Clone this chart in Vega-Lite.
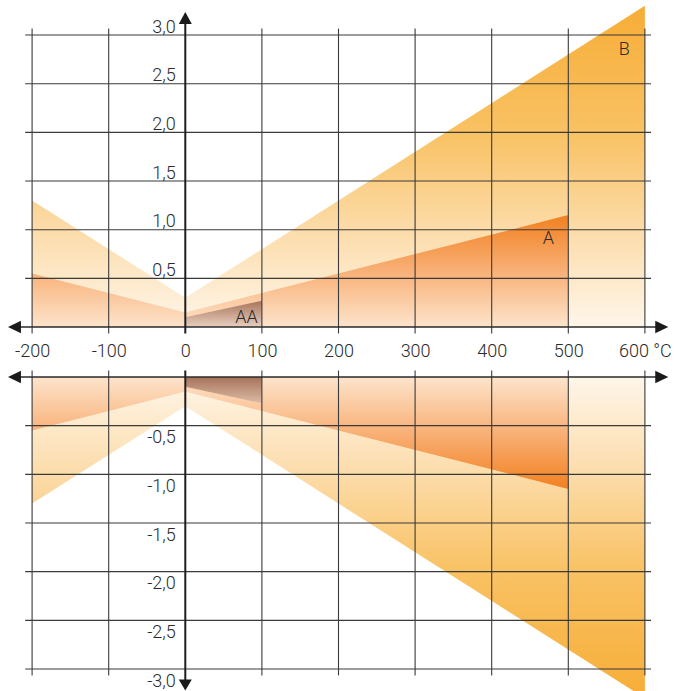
{
  "$schema": "https://vega.github.io/schema/vega-lite/v6.json",
  "padding": 0,
  "autosize": {"type": "pad"},
  "background": "white",
  "spacing": 50,
  "bounds": "flush",
  "config": {
    "view": {"stroke": null},
    "axis": {"labelFont": "Roboto", "labelFontWeight": 300, "labelFontSize": 18, "labelColor": "#2a2a2a"}
  },
  "datasets": {
    "bands": [
      {"cls": "B", "half": "upper", "t": -200, "v": 1.3},
      {"cls": "B", "half": "upper", "t": 0, "v": 0.3},
      {"cls": "B", "half": "upper", "t": 600, "v": 3.3},
      {"cls": "A", "half": "upper", "t": -200, "v": 0.55},
      {"cls": "A", "half": "upper", "t": 0, "v": 0.15},
      {"cls": "A", "half": "upper", "t": 500, "v": 1.15},
      {"cls": "AA", "half": "upper", "t": 0, "v": 0.1},
      {"cls": "AA", "half": "upper", "t": 100, "v": 0.27},
      {"cls": "B", "half": "lower", "t": -200, "v": -1.3},
      {"cls": "B", "half": "lower", "t": 0, "v": -0.3},
      {"cls": "B", "half": "lower", "t": 600, "v": -3.3},
      {"cls": "A", "half": "lower", "t": -200, "v": -0.55},
      {"cls": "A", "half": "lower", "t": 0, "v": -0.15},
      {"cls": "A", "half": "lower", "t": 500, "v": -1.15},
      {"cls": "AA", "half": "lower", "t": 0, "v": -0.1},
      {"cls": "AA", "half": "lower", "t": 100, "v": -0.27}
    ],
    "vgrid": [{"t": -200}, {"t": -100}, {"t": 100}, {"t": 200}, {"t": 300}, {"t": 400}, {"t": 500}, {"t": 600}],
    "hgridUpper": [{"v": 0.5}, {"v": 1.0}, {"v": 1.5}, {"v": 2.0}, {"v": 2.5}, {"v": 3.0}],
    "hgridLower": [{"v": -0.5}, {"v": -1.0}, {"v": -1.5}, {"v": -2.0}, {"v": -2.5}, {"v": -3.0}],
    "labels": [
      {"label": "B", "t": 573, "v": 2.85},
      {"label": "A", "t": 474, "v": 0.9},
      {"label": "AA", "t": 80, "v": 0.094}
    ]
  },
  "vconcat": [
    {
      "width": 675,
      "height": 327,
      "resolve": {"axis": {"x": "independent", "y": "independent"}},
      "layer": [
        {
          "data": {"name": "bands"},
          "transform": [{"filter": "datum.cls == 'B' && datum.half == 'upper'"}],
          "mark": {"type": "area", "clip": true, "color": {"gradient": "linear", "x1": 0, "y1": 1, "x2": 0, "y2": 0, "stops": [{"offset": 0, "color": "#fef6ea"}, {"offset": 0.3, "color": "#fcdcaa"}, {"offset": 0.6, "color": "#f9c264"}, {"offset": 1, "color": "#f7ad37"}]}},
          "encoding": {
            "x": {"field": "t", "type": "quantitative", "scale": {"domain": [-241.9, 639.3], "nice": false, "zero": false},
              "axis": {"values": [-200, -100, 0, 100, 200, 300, 400, 500, 600], "labelExpr": "datum.value == 600 ? '600 °C' : '' + datum.value", "domain": false, "ticks": false, "tickSize": 0, "grid": false, "labelPadding": 15, "labelFlush": false, "labelOverlap": false, "title": null}},
            "y": {"field": "v", "type": "quantitative", "stack": null, "scale": {"domain": [0, 3.36], "nice": false, "zero": false},
              "axis": {"orient": "left", "offset": -185.3, "values": [0.5, 1, 1.5, 2, 2.5, 3], "labelExpr": "replace(format(datum.value, '.1f'), '.', ',')", "domain": false, "ticks": false, "tickSize": 0, "grid": false, "labelPadding": 10, "labelBaseline": "alphabetic", "labelOffset": -3, "labelFlush": false, "labelOverlap": false, "title": null}},
            "y2": {"datum": 0}
          }
        },
        {
          "data": {"name": "bands"},
          "transform": [{"filter": "datum.cls == 'A' && datum.half == 'upper'"}],
          "mark": {"type": "area", "clip": true, "color": {"gradient": "linear", "x1": 0, "y1": 1, "x2": 0, "y2": 0, "stops": [{"offset": 0, "color": "#fde4cc"}, {"offset": 0.5, "color": "#f8b076"}, {"offset": 1, "color": "#f28020"}]}},
          "encoding": {
            "x": {"field": "t", "type": "quantitative", "axis": null},
            "y": {"field": "v", "type": "quantitative", "stack": null, "axis": null},
            "y2": {"datum": 0}
          }
        },
        {
          "data": {"name": "bands"},
          "transform": [{"filter": "datum.cls == 'AA' && datum.half == 'upper'"}],
          "mark": {"type": "area", "clip": true, "color": {"gradient": "linear", "x1": 0, "y1": 1, "x2": 0, "y2": 0, "stops": [{"offset": 0, "color": "#e8cfbf"}, {"offset": 1, "color": "#a8735a"}]}},
          "encoding": {
            "x": {"field": "t", "type": "quantitative", "axis": null},
            "y": {"field": "v", "type": "quantitative", "stack": null, "axis": null},
            "y2": {"datum": 0}
          }
        },
        {
          "data": {"name": "vgrid"},
          "mark": {"type": "rule", "color": "#3a3a3a", "strokeWidth": 1.1},
          "encoding": {
            "x": {"field": "t", "type": "quantitative", "axis": null},
            "y": {"datum": -0.066, "type": "quantitative", "axis": null},
            "y2": {"datum": 3.066}
          }
        },
        {
          "data": {"name": "hgridUpper"},
          "mark": {"type": "rule", "color": "#3a3a3a", "strokeWidth": 1.1},
          "encoding": {
            "y": {"field": "v", "type": "quantitative", "axis": null},
            "x": {"datum": -209, "type": "quantitative", "axis": null},
            "x2": {"datum": 608}
          }
        },
        {
          "data": {"values": [{}]},
          "mark": {"type": "rule", "color": "#2a2a2a", "strokeWidth": 1.5},
          "encoding": {
            "y": {"datum": 0, "type": "quantitative", "axis": null},
            "x": {"datum": -228, "type": "quantitative", "axis": null},
            "x2": {"datum": 627}
          }
        },
        {
          "data": {"values": [{}]},
          "mark": {"type": "rule", "color": "#1e1e1e", "strokeWidth": 2},
          "encoding": {
            "x": {"datum": 0, "type": "quantitative", "axis": null},
            "y": {"datum": -0.066, "type": "quantitative", "axis": null},
            "y2": {"datum": 3.2}
          }
        },
        {
          "data": {"values": [{}]},
          "mark": {"type": "point", "shape": "M0,0L2,-0.95L2,0.95Z", "size": 169, "filled": true, "color": "#1a1a1a", "strokeWidth": 0, "opacity": 1},
          "encoding": {
            "x": {"datum": -231.5, "type": "quantitative", "axis": null},
            "y": {"datum": 0, "type": "quantitative", "axis": null}
          }
        },
        {
          "data": {"values": [{}]},
          "mark": {"type": "point", "shape": "M0,0L-2,-0.95L-2,0.95Z", "size": 169, "filled": true, "color": "#1a1a1a", "strokeWidth": 0, "opacity": 1},
          "encoding": {
            "x": {"datum": 630.5, "type": "quantitative", "axis": null},
            "y": {"datum": 0, "type": "quantitative", "axis": null}
          }
        },
        {
          "data": {"values": [{}]},
          "mark": {"type": "point", "shape": "M0,0L-1,1.85L1,1.85Z", "size": 169, "filled": true, "color": "#1a1a1a", "strokeWidth": 0, "opacity": 1},
          "encoding": {
            "x": {"datum": 0, "type": "quantitative", "axis": null},
            "y": {"datum": 3.237, "type": "quantitative", "axis": null}
          }
        },
        {
          "data": {"name": "labels"},
          "mark": {"type": "text", "font": "Roboto", "fontWeight": 300, "fontSize": 18, "color": "#2a2a2a", "align": "center", "baseline": "middle"},
          "encoding": {
            "x": {"field": "t", "type": "quantitative", "axis": null},
            "y": {"field": "v", "type": "quantitative", "axis": null},
            "text": {"field": "label", "type": "nominal"}
          }
        }
      ]
    },
    {
      "width": 675,
      "height": 314,
      "resolve": {"axis": {"x": "independent", "y": "independent"}},
      "layer": [
        {
          "data": {"name": "bands"},
          "transform": [{"filter": "datum.cls == 'B' && datum.half == 'lower'"}],
          "mark": {"type": "area", "clip": true, "color": {"gradient": "linear", "x1": 0, "y1": 0, "x2": 0, "y2": 1, "stops": [{"offset": 0, "color": "#fef6ea"}, {"offset": 0.3, "color": "#fcdcaa"}, {"offset": 0.6, "color": "#f9c264"}, {"offset": 1, "color": "#f7ad37"}]}},
          "encoding": {
            "x": {"field": "t", "type": "quantitative", "scale": {"domain": [-241.9, 639.3], "nice": false, "zero": false}, "axis": null},
            "y": {"field": "v", "type": "quantitative", "stack": null, "scale": {"domain": [-3.226, 0], "nice": false, "zero": false},
              "axis": {"orient": "left", "offset": -185.3, "values": [-0.5, -1, -1.5, -2, -2.5, -3], "labelExpr": "'-' + replace(format(-datum.value, '.1f'), '.', ',')", "domain": false, "ticks": false, "tickSize": 0, "grid": false, "labelPadding": 10, "labelBaseline": "alphabetic", "labelOffset": 17, "labelFlush": false, "labelOverlap": false, "title": null}},
            "y2": {"datum": 0}
          }
        },
        {
          "data": {"name": "bands"},
          "transform": [{"filter": "datum.cls == 'A' && datum.half == 'lower'"}],
          "mark": {"type": "area", "clip": true, "color": {"gradient": "linear", "x1": 0, "y1": 0, "x2": 0, "y2": 1, "stops": [{"offset": 0, "color": "#fde4cc"}, {"offset": 0.5, "color": "#f8b076"}, {"offset": 1, "color": "#f28020"}]}},
          "encoding": {
            "x": {"field": "t", "type": "quantitative", "axis": null},
            "y": {"field": "v", "type": "quantitative", "stack": null, "axis": null},
            "y2": {"datum": 0}
          }
        },
        {
          "data": {"name": "bands"},
          "transform": [{"filter": "datum.cls == 'AA' && datum.half == 'lower'"}],
          "mark": {"type": "area", "clip": true, "color": {"gradient": "linear", "x1": 0, "y1": 0, "x2": 0, "y2": 1, "stops": [{"offset": 0, "color": "#a8735a"}, {"offset": 1, "color": "#dcbba6"}]}},
          "encoding": {
            "x": {"field": "t", "type": "quantitative", "axis": null},
            "y": {"field": "v", "type": "quantitative", "stack": null, "axis": null},
            "y2": {"datum": 0}
          }
        },
        {
          "data": {"name": "vgrid"},
          "mark": {"type": "rule", "color": "#3a3a3a", "strokeWidth": 1.1},
          "encoding": {
            "x": {"field": "t", "type": "quantitative", "axis": null},
            "y": {"datum": 0.066, "type": "quantitative", "axis": null},
            "y2": {"datum": -3.066}
          }
        },
        {
          "data": {"name": "hgridLower"},
          "mark": {"type": "rule", "color": "#3a3a3a", "strokeWidth": 1.1},
          "encoding": {
            "y": {"field": "v", "type": "quantitative", "axis": null},
            "x": {"datum": -209, "type": "quantitative", "axis": null},
            "x2": {"datum": 608}
          }
        },
        {
          "data": {"values": [{}]},
          "mark": {"type": "rule", "color": "#2a2a2a", "strokeWidth": 1.5},
          "encoding": {
            "y": {"datum": 0, "type": "quantitative", "axis": null},
            "x": {"datum": -228, "type": "quantitative", "axis": null},
            "x2": {"datum": 627}
          }
        },
        {
          "data": {"values": [{}]},
          "mark": {"type": "rule", "color": "#1e1e1e", "strokeWidth": 2},
          "encoding": {
            "x": {"datum": 0, "type": "quantitative", "axis": null},
            "y": {"datum": 0.066, "type": "quantitative", "axis": null},
            "y2": {"datum": -3.15}
          }
        },
        {
          "data": {"values": [{}]},
          "mark": {"type": "point", "shape": "M0,0L2,-0.95L2,0.95Z", "size": 169, "filled": true, "color": "#1a1a1a", "strokeWidth": 0, "opacity": 1},
          "encoding": {
            "x": {"datum": -231.5, "type": "quantitative", "axis": null},
            "y": {"datum": 0, "type": "quantitative", "axis": null}
          }
        },
        {
          "data": {"values": [{}]},
          "mark": {"type": "point", "shape": "M0,0L-2,-0.95L-2,0.95Z", "size": 169, "filled": true, "color": "#1a1a1a", "strokeWidth": 0, "opacity": 1},
          "encoding": {
            "x": {"datum": 630.5, "type": "quantitative", "axis": null},
            "y": {"datum": 0, "type": "quantitative", "axis": null}
          }
        },
        {
          "data": {"values": [{}]},
          "mark": {"type": "point", "shape": "M0,0L-1,-1.7L1,-1.7Z", "size": 169, "filled": true, "color": "#1a1a1a", "strokeWidth": 0, "opacity": 1},
          "encoding": {
            "x": {"datum": 0, "type": "quantitative", "axis": null},
            "y": {"datum": -3.222, "type": "quantitative", "axis": null}
          }
        }
      ]
    }
  ]
}
